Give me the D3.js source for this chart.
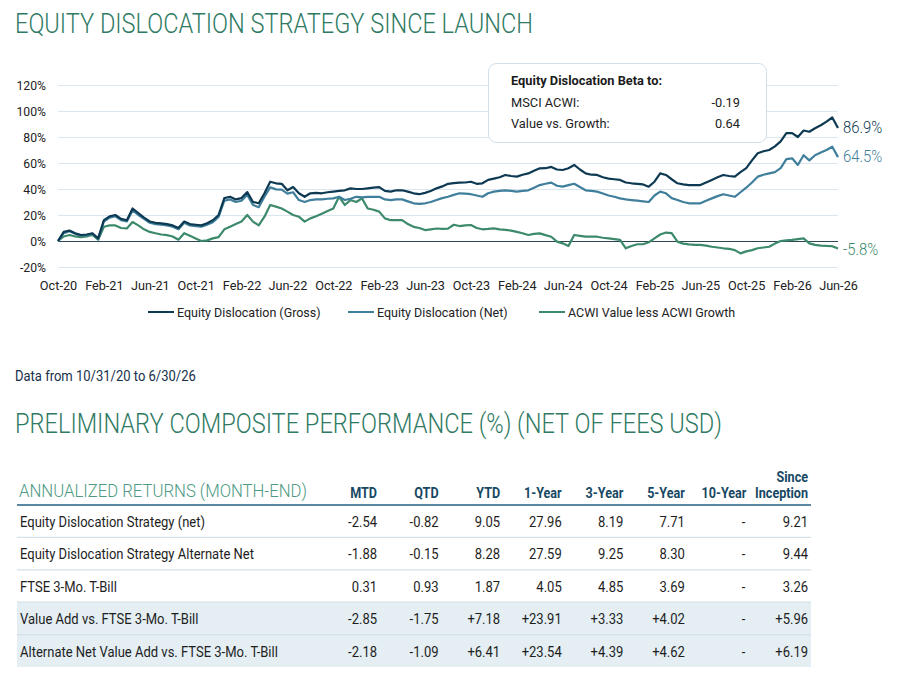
<!DOCTYPE html>
<html>
<head>
<meta charset="utf-8">
<script src="https://cdn.jsdelivr.net/npm/d3@7"></script>
<style>
  body { margin: 0; background: #fff; }
  text { font-family: Roboto, "Noto Sans", sans-serif; }
</style>
</head>
<body>
<svg id="chart" width="904" height="685"></svg>
<script>
// half-month steps from Oct-20 (0) to Jun-26 (68)
const monthIdx = d3.range(0, 68.5, 0.5)

const gross = [
  0, 7, 8, 6, 4.6, 5, 6, 2,
  16, 19, 20, 17, 16, 25, 21.5, 18, 15, 14, 13.6, 13, 12, 10, 15, 13, 12.5, 12,
  13.6, 16, 20, 33, 34, 32, 33, 37.6, 30, 29, 36.7, 45.6, 44.4, 44, 39, 41.5,
  36.7, 34, 36.7, 37, 36.7, 37.5, 38, 38.5, 39, 40.5, 40, 40,
  40.5, 41, 41.5, 38.5, 38, 39, 39, 38, 36.7, 36, 37, 38.5, 40.5, 42, 44, 44.5,
  44.9, 45, 45.6, 44, 44.4, 47, 48, 49,
  50.8, 50, 49.5, 51, 52, 54, 55.9, 56, 57, 55, 54.6, 56, 58.5, 55, 52, 51,
  50.8, 49, 48, 47.5, 47, 45, 44.4, 44,
  43.5, 41.8, 45.6, 52, 50.8, 47.5, 44.4, 43.5, 43, 43, 43, 45, 47, 49, 50.8, 50,
  49.5, 53, 56, 62, 67.5, 69, 70, 72.8,
  76.6, 83, 83, 80, 85, 84, 86.7, 89, 91.8, 95, 86.9
]

const net = [
  0, 6, 7.5, 5.5, 4.3, 4.5, 5.5, 1.5,
  15, 18, 19, 16, 15, 23.5, 20, 17, 14, 13, 12.5, 12, 11, 9, 14, 12, 11.5, 11,
  12.5, 14.5, 18.5, 31, 32, 30, 31, 35.5, 27.7, 26, 34, 41.3, 39.7, 39.5, 36.4, 37.5,
  31.5, 30, 31.5, 32, 32, 32.5, 32.8, 34, 31.5, 32.5, 34, 33.5,
  34, 34, 34, 32, 31.5, 32, 32, 30.5, 29, 28.5, 29, 30, 31.5, 33, 34, 35.5,
  36.7, 36.5, 36, 35, 34, 36.7, 38, 38.5,
  39, 38.5, 38, 38.5, 39, 41, 43, 44, 44.9, 42.5, 41.8, 43, 44, 41.5, 39, 38.5,
  38, 36.5, 35, 34, 32.8, 32, 31.5, 31,
  30.5, 30, 35, 38, 36.7, 33, 31.5, 30, 29, 29, 29, 31, 32.8, 34.5, 36, 35,
  34, 37.5, 41, 45, 49.5, 51, 52, 53,
  56, 63, 63.6, 58.5, 66, 62, 66, 68, 70, 72.5, 64.5
]

const acwi = [
  0, 3.5, 4.6, 3.5, 3, 3.5, 4.6, 1,
  11, 12, 12, 10, 9.7, 14.6, 12, 9, 7, 6, 5, 4.5, 3.5, 1, 6, 4, 2, 0,
  0.5, 2, 3, 9, 11, 13, 15, 20, 14.9, 12, 18.7, 27.7, 26.4, 25, 22.6, 20,
  18.7, 14.9, 17.4, 19, 21, 23, 25, 34, 27.7, 31.5, 30, 32.8,
  25, 24, 22.6, 17.4, 16, 16, 16, 13, 10.9, 10, 8.4, 9, 9.6, 9.3, 9.5, 12.5,
  11.5, 12, 12.3, 10, 9, 9.3, 9.7, 9,
  8.5, 8, 7, 6, 4.6, 5.5, 5.9, 4.5, 3.3, -0.5, -1.8, -3.8, 4.6, 4, 3.3, 3.3,
  3.3, 2.5, 2, 1.5, 0.8, -5.6, -3.8, -2.5,
  -2.5, -1, 2, 5, 6.5, 6, -0.5, -2, -2.6, -3, -3, -3.5, -4.4, -5, -5.6, -6,
  -7, -9.5, -8, -7, -5.6, -5, -4.4, -2,
  0, 0.5, 0.8, 1.5, 2, -1.8, -3, -3.5, -3.8, -4, -5.8
]

const yTicks = [-20, 0, 20, 40, 60, 80, 100, 120]
const xTickMonths = d3.range(0, 69, 4)
const xLabels = ["Oct-20", "Feb-21", "Jun-21", "Oct-21", "Feb-22", "Jun-22", "Oct-22", "Feb-23", "Jun-23",
  "Oct-23", "Feb-24", "Jun-24", "Oct-24", "Feb-25", "Jun-25", "Oct-25", "Feb-26", "Jun-26"]

const seriesNames = ["Equity Dislocation (Gross)", "Equity Dislocation (Net)", "ACWI Value less ACWI Growth"]
const seriesColors = ["#0d3a52", "#3f7f9b", "#3c8a6b"]
const endLabels = ["86.9%", "64.5%", "-5.8%"]

const betaLabels = ["MSCI ACWI:", "Value vs. Growth:"]
const betaValues = ["-0.19", "0.64"]

const columns = ["MTD", "QTD", "YTD", "1-Year", "3-Year", "5-Year", "10-Year", "Since Inception"]
const rowLabels = [
  "Equity Dislocation Strategy (net)",
  "Equity Dislocation Strategy Alternate Net",
  "FTSE 3-Mo. T-Bill",
  "Value Add vs. FTSE 3-Mo. T-Bill",
  "Alternate Net Value Add vs. FTSE 3-Mo. T-Bill"
]
const rowValues = [
  ["-2.54", "-0.82", "9.05", "27.96", "8.19", "7.71", "-", "9.21"],
  ["-1.88", "-0.15", "8.28", "27.59", "9.25", "8.30", "-", "9.44"],
  ["0.31", "0.93", "1.87", "4.05", "4.85", "3.69", "-", "3.26"],
  ["-2.85", "-1.75", "+7.18", "+23.91", "+3.33", "+4.02", "-", "+5.96"],
  ["-2.18", "-1.09", "+6.41", "+23.54", "+4.39", "+4.62", "-", "+6.19"]
]

const svg = d3.select("#chart")
const SX = 0.94

// condensed-looking text: Roboto squeezed horizontally
function label(sel, x, y, str, o = {}) {
  return sel.append("text")
    .attr("transform", `translate(${x},${y}) scale(${o.sx || SX},1)`)
    .attr("text-anchor", o.anchor || "start")
    .style("font-size", (o.size || 13) + "px")
    .style("font-weight", o.weight || 400)
    .attr("fill", o.fill || "#222")
    .text(str)
}

// titles
svg.append("text").attr("x", 15).attr("y", 33)
  .attr("textLength", 518).attr("lengthAdjust", "spacingAndGlyphs")
  .style("font-size", "28px").style("font-weight", 300).attr("fill", "#2f7a63")
  .text("EQUITY DISLOCATION STRATEGY SINCE LAUNCH")

let x = d3.scaleLinear().domain([0, 68]).range([58, 838]),
    y = d3.scaleLinear().domain([-20, 120]).range([267, 85])

// grid + y axis
let gy = svg.append("g").attr("transform", "translate(58,0)")
  .call(d3.axisLeft(y).tickValues(yTicks).tickSize(-780).tickPadding(12).tickFormat(d => d + "%"))
gy.select(".domain").remove()
gy.selectAll("line").attr("stroke", d => d == 0 ? "#2e4656" : "#dbe6ee").attr("stroke-width", d => d == 0 ? 1.2 : 1)
gy.selectAll("text").attr("fill", "#222").style("font-size", "13px")
  .attr("transform", `scale(${SX},1)`).attr("x", -12 / SX)

// x axis
let gx = svg.append("g").attr("transform", "translate(0,267)")
  .call(d3.axisBottom(x).tickValues(xTickMonths).tickSize(0).tickPadding(13).tickFormat((d, i) => xLabels[i]))
gx.select(".domain").remove()
gx.selectAll("text").attr("fill", "#222").style("font-size", "13.5px")
  .attr("transform", `scale(${SX},1)`)

// lines
let line = d3.line().x((d, i) => x(monthIdx[i])).y(d => y(d))
let series = [gross, net, acwi]
svg.append("g").selectAll("path")
  .data([acwi, net, gross]).enter()
  .append("path")
  .attr("d", line)
  .attr("fill", "none")
  .attr("stroke", (d, i) => seriesColors[2 - i])
  .attr("stroke-width", 2.2)
  .attr("stroke-linejoin", "round")

// end labels
series.forEach((s, i) => {
  let v = s[s.length - 1],
      dy = i == 2 ? 6 : 5
  label(svg, 843, y(v) + dy, endLabels[i], {size: 16.5, fill: seriesColors[i], weight: 300, sx: 0.9})
})

// beta box
svg.append("rect").attr("x", 488.5).attr("y", 63.5).attr("width", 278).attr("height", 79)
  .attr("rx", 8).attr("fill", "#fff").attr("stroke", "#cfe0ea")
label(svg, 511, 85, "Equity Dislocation Beta to:", {size: 13.5, weight: 700, fill: "#1b1b1b", sx: 0.95})
betaLabels.forEach((b, i) => {
  label(svg, 511, 107 + i * 21, b, {size: 13.5, fill: "#222", sx: 0.95})
  label(svg, 740, 107 + i * 21, betaValues[i], {size: 13.5, fill: "#222", anchor: "end", sx: 0.95})
})

// legend
let legX = [148, 348, 539]
seriesNames.forEach((n, i) => {
  svg.append("line").attr("x1", legX[i]).attr("x2", legX[i] + 26).attr("y1", 312).attr("y2", 312)
    .attr("stroke", seriesColors[i]).attr("stroke-width", 2)
  label(svg, legX[i] + 29, 316.5, n, {size: 13, fill: "#222", sx: 0.96})
})

label(svg, 15, 381, "Data from 10/31/20 to 6/30/26", {size: 14, fill: "#17304a", sx: 0.93})

svg.append("text").attr("x", 15).attr("y", 433)
  .attr("textLength", 707).attr("lengthAdjust", "spacingAndGlyphs")
  .style("font-size", "28px").style("font-weight", 300).attr("fill", "#2f7a63")
  .text("PRELIMINARY COMPOSITE PERFORMANCE (%) (NET OF FEES USD)")

// table
let colX = d3.scalePoint().domain(columns).range([377, 808]),
    rowY = d3.scaleBand().domain(rowLabels).range([505, 667])

svg.append("g").selectAll("rect")
  .data(rowLabels.slice(3)).enter()
  .append("rect")
  .attr("x", 17).attr("width", 794)
  .attr("y", d => rowY(d)).attr("height", rowY.bandwidth())
  .attr("fill", "#e4eef3")

svg.append("g").selectAll("line")
  .data(rowLabels.slice(0, 4)).enter()
  .append("line")
  .attr("x1", 17).attr("x2", 811)
  .attr("y1", d => rowY(d) + rowY.bandwidth()).attr("y2", d => rowY(d) + rowY.bandwidth())
  .attr("stroke", "#d3e2ea").attr("stroke-width", 1.2)

svg.append("line").attr("x1", 17).attr("x2", 811).attr("y1", 505).attr("y2", 505)
  .attr("stroke", "#5a87a2").attr("stroke-width", 2)

label(svg, 19, 497, "ANNUALIZED RETURNS (MONTH-END)", {size: 19, weight: 300, fill: "#4e9a83", sx: 0.88})

columns.forEach(c => {
  let o = {size: 14, weight: 700, fill: "#174863", anchor: "end", sx: 0.9}
  if (c == "Since Inception") {
    label(svg, colX(c), 482, "Since", o)
    label(svg, colX(c), 498, "Inception", o)
  } else {
    label(svg, colX(c), 498, c, o)
  }
})

rowLabels.forEach((r, ri) => {
  let by = rowY(r) + 22
  label(svg, 20, by, r, {size: 14, fill: "#1e1e1e", sx: 0.93})
  rowValues[ri].forEach((v, ci) => {
    let cx = colX(columns[ci]) - (v == "-" ? 1 : 0)
    label(svg, cx, by, v, {size: 14, fill: "#1e1e1e", anchor: "end", sx: 0.93})
  })
})
</script>
</body>
</html>
